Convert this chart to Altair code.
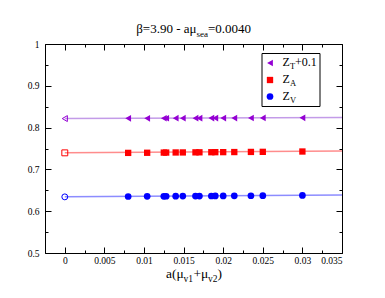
import altair as alt
import pandas as pd

# ---- data ----
mu_sum = [0.008, 0.0104, 0.0125, 0.0128, 0.014, 0.0149, 0.0165, 0.017,
          0.0185, 0.019, 0.02, 0.0214, 0.0235, 0.025, 0.03]
z_t = [0.8222, 0.8223, 0.8224, 0.8224, 0.8225, 0.8225, 0.8226, 0.8226,
       0.8227, 0.8227, 0.8228, 0.8229, 0.8230, 0.8231, 0.8234]
z_a = [0.7395, 0.7398, 0.7402, 0.7403, 0.7405, 0.7406, 0.7408, 0.7409,
       0.7411, 0.7412, 0.7413, 0.7415, 0.7418, 0.7420, 0.7428]
z_v = [0.6352, 0.6355, 0.6357, 0.6358, 0.6360, 0.6361, 0.6362, 0.6363,
       0.6364, 0.6365, 0.6366, 0.6368, 0.6370, 0.6372, 0.6378]
fit_x = [0.0, 0.035]
fit_t = [0.8216, 0.8240]
fit_a = [0.7396, 0.7440]
fit_v = [0.6343, 0.6385]
chiral_x = [0.0]
chiral_t = [0.8216]
chiral_a = [0.7396]
chiral_v = [0.6343]

x_major = [0, 0.005, 0.01, 0.015, 0.02, 0.025, 0.03, 0.035]
x_minor = [-0.0025, 0.0025, 0.0075, 0.0125, 0.0175, 0.0225, 0.0275, 0.0325]
y_major = [0.5, 0.6, 0.7, 0.8, 0.9, 1.0]
y_minor = [0.55, 0.65, 0.75, 0.85, 0.95]

# ---- style ----
W, H = 297, 209
FONT = "Liberation Serif"
VIOLET, RED, BLUE = "#9400d3", "#ff0000", "#0000ff"
VIOLET_L, RED_L, BLUE_L = "#c39be8", "#ff8c8c", "#8c8cff"

xs = alt.Scale(domain=[-0.0025, 0.035], nice=False, zero=False)
ys = alt.Scale(domain=[0.5, 1.0], nice=False, zero=False)


def tick_axis(orient, values, size):
    return alt.Axis(orient=orient, values=values, labels=False, domain=False,
                    grid=False, ticks=True, tickSize=size, offset=-size,
                    tickColor="black", tickWidth=1, title=None)


label_x = alt.Axis(orient="bottom", values=x_major, format="~g", labels=True,
                   ticks=False, domain=False, grid=False, labelFont=FONT,
                   labelFontSize=9.5, labelColor="black", labelPadding=2,
                   title=None)
label_y = alt.Axis(orient="left", values=y_major, format="~g", labels=True,
                   ticks=False, domain=False, grid=False, labelFont=FONT,
                   labelFontSize=9.5, labelColor="black", labelPadding=6,
                   title=None)

x_axes = [label_x, tick_axis("bottom", x_major, 6), tick_axis("bottom", x_minor, 3),
          tick_axis("top", x_major, 6), tick_axis("top", x_minor, 3)]
y_axes = [label_y, tick_axis("left", y_major, 6), tick_axis("left", y_minor, 3),
          tick_axis("right", y_major, 6), tick_axis("right", y_minor, 3)]


def axis_pair(i):
    if i < len(x_axes):
        return x_axes[i], y_axes[i]
    return None, None


layers = []
idx = 0

# fit lines
for fy, col in [(fit_t, VIOLET_L), (fit_a, RED_L), (fit_v, BLUE_L)]:
    ax, ay = axis_pair(idx)
    idx += 1
    df = pd.DataFrame({"x": fit_x, "y": fy})
    layers.append(
        alt.Chart(df).mark_line(color=col, strokeWidth=1.5).encode(
            x=alt.X("x:Q", scale=xs, axis=ax),
            y=alt.Y("y:Q", scale=ys, axis=ay),
        )
    )

# data points
for vals, col, shape, size in [(z_t, VIOLET, "triangle-left", 45),
                               (z_a, RED, "square", 40),
                               (z_v, BLUE, "circle", 45)]:
    ax, ay = axis_pair(idx)
    idx += 1
    df = pd.DataFrame({"x": mu_sum, "y": vals})
    layers.append(
        alt.Chart(df).mark_point(shape=shape, filled=True, size=size, color=col,
                                 opacity=1).encode(
            x=alt.X("x:Q", scale=xs, axis=ax),
            y=alt.Y("y:Q", scale=ys, axis=ay),
        )
    )

# chiral-limit (open) points
for vals, col, shape in [(chiral_t, VIOLET, "triangle-left"),
                         (chiral_a, RED, "square"),
                         (chiral_v, BLUE, "circle")]:
    df = pd.DataFrame({"x": chiral_x, "y": vals})
    layers.append(
        alt.Chart(df).mark_point(shape=shape, filled=False, size=35, color=col,
                                 strokeWidth=1, opacity=1).encode(
            x=alt.X("x:Q", scale=xs, axis=None),
            y=alt.Y("y:Q", scale=ys, axis=None),
        )
    )

one = pd.DataFrame({"k": [0]})


def txt(s, x, y, size, align="left"):
    return alt.Chart(one).mark_text(text=s, font=FONT, fontSize=size, align=align,
                                    baseline="alphabetic", color="black").encode(
        x=alt.value(x), y=alt.value(y))


# title
layers += [
    txt("β=3.90 - aμ", 151.5, -11, 13, "right"),
    txt("sea", 151.5, -7, 9),
    txt("=0.0040", 163, -11, 13),
]
# x-axis title
layers += [
    txt("a(μ", 121, 233.5, 13.5),
    txt("v1", 138.5, 237.5, 9.5),
    txt("+μ", 148.5, 233.5, 13.5),
    txt("v2", 163, 237.5, 9.5),
    txt(")", 172.5, 233.5, 13.5),
]

# legend
layers.append(
    alt.Chart(one).mark_rect(fill="white", stroke="black", strokeWidth=1).encode(
        x=alt.value(217), x2=alt.value(275), y=alt.value(9.5), y2=alt.value(62.5))
)
for yy, col, shape, size in [(19, VIOLET, "triangle-left", 45),
                             (36, RED, "square", 40),
                             (52.5, BLUE, "circle", 45)]:
    layers.append(
        alt.Chart(one).mark_point(shape=shape, filled=True, size=size, color=col,
                                  opacity=1).encode(x=alt.value(225), y=alt.value(yy))
    )
layers += [
    txt("Z", 237.5, 22, 12),
    txt("T", 245, 25, 8.5),
    txt("+0.1", 250, 22, 12),
    txt("Z", 237.5, 39, 12),
    txt("A", 245, 42, 8.5),
    txt("Z", 237.5, 55.5, 12),
    txt("V", 245, 58.5, 8.5),
]

chart = (
    alt.layer(*layers)
    .resolve_axis(x="independent", y="independent")
    .properties(
        width=W, height=H,
        autosize=alt.AutoSizeParams(type="none"),
        padding={"left": 37, "top": 36, "right": 30, "bottom": 37},
        background="white",
    )
    .configure_view(stroke="black", strokeWidth=1)
)

chart.save("out.html", embed_options={"renderer": "svg", "actions": False})
